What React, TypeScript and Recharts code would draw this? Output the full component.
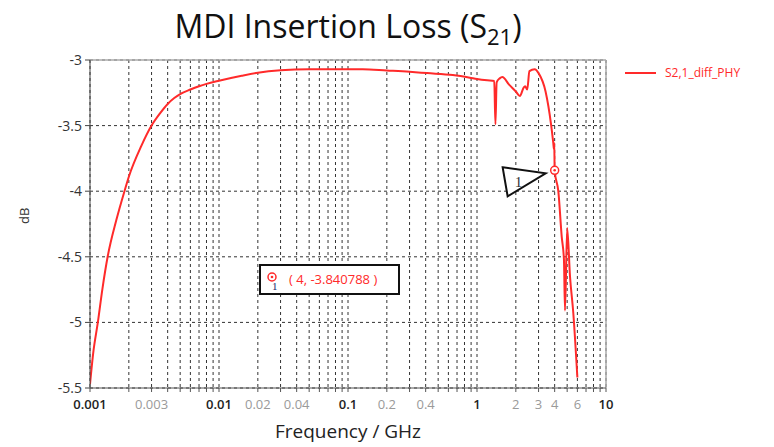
import React from 'react';
import {
  LineChart,
  Line,
  XAxis,
  YAxis,
  CartesianGrid,
  ReferenceLine,
  ReferenceDot,
} from 'recharts';

// frequency (GHz) and insertion loss (dB)
const freqs = [
  0.001, 0.00106, 0.00115, 0.00125, 0.00137, 0.0016, 0.00185, 0.002, 0.0025, 0.003,
  0.0035, 0.004, 0.0045, 0.005, 0.006, 0.007, 0.008, 0.01, 0.015, 0.02,
  0.03, 0.05, 0.1, 0.13, 0.2, 0.3, 0.41, 0.65, 0.88, 1.0,
  1.2, 1.36, 1.39, 1.42, 1.5, 1.57, 1.78, 2.0, 2.15, 2.3,
  2.36, 2.45, 2.55, 2.8, 3.0, 3.4, 3.75, 3.9, 3.95, 3.97,
  4.0, 4.27, 4.54, 4.72, 4.81, 5.0, 5.26, 5.58, 6.0,
];
const lossDb = [
  -5.47, -5.23, -5.0, -4.74, -4.5, -4.22, -4.0, -3.89, -3.655, -3.5,
  -3.405, -3.335, -3.29, -3.26, -3.225, -3.2, -3.182, -3.158, -3.12, -3.097,
  -3.078, -3.07, -3.07, -3.07, -3.08, -3.09, -3.1, -3.115, -3.135, -3.145,
  -3.155, -3.16, -3.49, -3.17, -3.14, -3.13, -3.19, -3.24, -3.275, -3.21,
  -3.2, -3.225, -3.085, -3.07, -3.1, -3.24, -3.49, -3.63, -3.68, -3.63,
  -3.840788, -4.0, -4.35, -4.52, -4.91, -4.28, -4.65, -4.93, -5.42,
];

const markerFreq = 4;
const markerDb = -3.840788;
const seriesName = 'S2,1_diff_PHY';

const yTicks = [-3, -3.5, -4, -4.5, -5, -5.5];
const decades = [0.001, 0.01, 0.1, 1];
const multipliers = [1, 2, 3, 4, 5, 6, 7, 8, 9];
const xGridTicks = [...decades.flatMap((d) => multipliers.map((m) => +(d * m).toPrecision(3))), 10];
const xMajorLabels = ['0.001', '0.01', '0.1', '1', '10'];
const xMinorLabels = ['0.003', '0.02', '0.04', '0.2', '0.4', '2', '3', '4', '6'];

const RED = '#ff2a2a';
const FONT = '"Open Sans", "Noto Sans", sans-serif';

const data = freqs.map((f, i) => ({ f, db: lossDb[i] }));

const XTick = ({ x, y, payload }: any) => {
  const label = String(payload.value);
  const major = xMajorLabels.includes(label);
  if (!major && !xMinorLabels.includes(label)) return null;
  return (
    <text
      x={x}
      y={y + 15}
      textAnchor="middle"
      fontSize={13}
      fontFamily={FONT}
      fill={major ? '#222' : '#9a9a9a'}
      fontWeight={major ? 600 : 400}
    >
      {label}
    </text>
  );
};

const MarkerShape = ({ cx, cy }: any) => (
  <g>
    <polygon
      points={`${cx - 52},${cy - 3} ${cx - 9},${cy + 3} ${cx - 47},${cy + 26}`}
      fill="#fff"
      stroke="#111"
      strokeWidth={2}
    />
    <text x={cx - 40} y={cy + 17} fontSize={15} fontFamily="Liberation Serif, serif" fill="#333">
      1
    </text>
    <circle cx={cx} cy={cy} r={4} fill="#fff" stroke={RED} strokeWidth={1.5} />
    <circle cx={cx} cy={cy} r={1.3} fill={RED} />
  </g>
);

export default function App() {
  return (
    <div style={{ position: 'absolute', left: 0, top: 0, width: 774, height: 447, background: '#fff' }}>
      <div
        style={{
          position: 'absolute',
          left: 90,
          width: 516,
          top: 4,
          textAlign: 'center',
          fontFamily: FONT,
          fontSize: 32,
          color: '#111',
          lineHeight: '44px',
        }}
      >
        MDI Insertion Loss (S<sub style={{ fontSize: 22, lineHeight: 0 }}>21</sub>)
      </div>
      <LineChart
        width={774}
        height={447}
        data={data}
        margin={{ top: 60, right: 168, bottom: 0, left: 0 }}
      >
        <CartesianGrid stroke="#333" strokeDasharray="3 3" verticalValues={xGridTicks} />
        <XAxis
          dataKey="f"
          type="number"
          scale="log"
          domain={[0.001, 10]}
          allowDataOverflow
          ticks={xGridTicks}
          interval={0}
          tick={<XTick />}
          tickSize={4}
          height={59}
          stroke="#555"
          label={{
            value: 'Frequency / GHz',
            position: 'insideBottom',
            offset: 9,
            fontSize: 19,
            fontFamily: FONT,
            fill: '#222',
          }}
        />
        <YAxis
          type="number"
          domain={[-5.5, -3]}
          ticks={yTicks}
          interval={0}
          width={90}
          tickSize={5}
          tickMargin={3}
          stroke="#444"
          tick={{ fontSize: 14, fontFamily: FONT, fill: '#333' }}
          label={{
            value: 'dB',
            angle: -90,
            position: 'insideLeft',
            offset: 24,
            fontSize: 13,
            fontFamily: FONT,
            fill: '#333',
          }}
        />
        <ReferenceLine y={-3} stroke="#aaa" strokeWidth={1.5} />
        <ReferenceLine x={10} stroke="#aaa" strokeWidth={1.5} />
        <Line
          type="monotone"
          dataKey="db"
          stroke={RED}
          strokeWidth={2}
          dot={false}
          isAnimationActive={false}
          name={seriesName}
        />
        <ReferenceDot x={markerFreq} y={markerDb} shape={<MarkerShape />} />
      </LineChart>
      <div
        style={{
          position: 'absolute',
          left: 625,
          top: 64,
          display: 'flex',
          alignItems: 'center',
          fontFamily: FONT,
          fontSize: 12,
          color: RED,
        }}
      >
        <div style={{ width: 31, height: 2, background: RED, marginRight: 9 }} />
        <span>{seriesName}</span>
      </div>
      <div
        style={{
          position: 'absolute',
          left: 259,
          top: 264,
          width: 141,
          height: 31,
          border: '2px solid #111',
          background: '#fff',
          boxSizing: 'border-box',
        }}
      >
        <svg width={20} height={27} style={{ position: 'absolute', left: 3, top: 0 }}>
          <circle cx={8} cy={11} r={4} fill="#fff" stroke={RED} strokeWidth={1.5} />
          <circle cx={8} cy={11} r={1.3} fill={RED} />
          <text x={8} y={24} fontSize={11} fontFamily="Liberation Serif, serif" fill="#1a2a6a">
            1
          </text>
        </svg>
        <span
          style={{
            position: 'absolute',
            left: 28,
            top: 4,
            fontFamily: FONT,
            fontSize: 13,
            color: RED,
            whiteSpace: 'pre',
          }}
        >
          ( 4, -3.840788 )
        </span>
      </div>
    </div>
  );
}
